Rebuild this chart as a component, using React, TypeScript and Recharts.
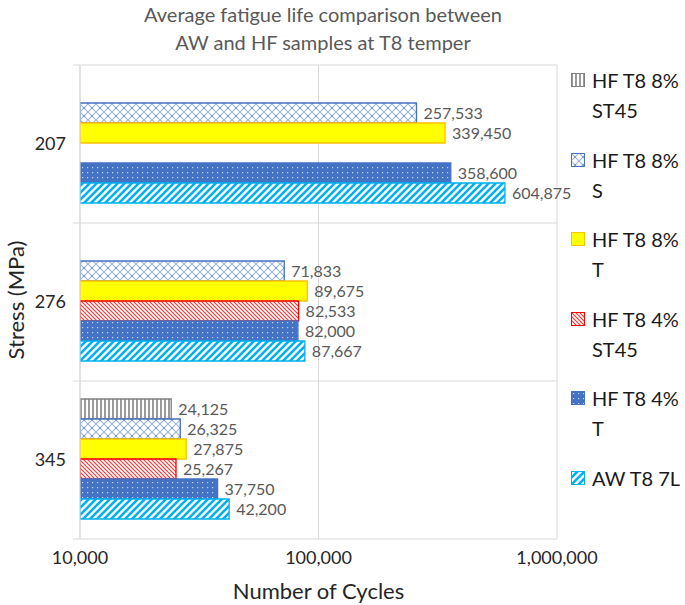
import { BarChart, Bar, XAxis, YAxis, CartesianGrid, LabelList } from 'recharts';

const stresses = ['207', '276', '345'];
const hf8ST45 = [null, null, 24125];
const hf8S = [257533, 71833, 26325];
const hf8T = [339450, 89675, 27875];
const hf4ST45 = [null, 82533, 25267];
const hf4T = [358600, 82000, 37750];
const aw7L = [604875, 87667, 42200];
const xTicks = [10000, 100000, 1000000];

const series = [
  { key: 'hf8ST45', name: ['HF T8 8%', 'ST45'], values: hf8ST45, fill: 'url(#pGray)', stroke: '#808080' },
  { key: 'hf8S', name: ['HF T8 8%', 'S'], values: hf8S, fill: 'url(#pLattice)', stroke: '#4472c4' },
  { key: 'hf8T', name: ['HF T8 8%', 'T'], values: hf8T, fill: '#ffff00', stroke: '#ffc000' },
  { key: 'hf4ST45', name: ['HF T8 4%', 'ST45'], values: hf4ST45, fill: 'url(#pRed)', stroke: '#ff0000' },
  { key: 'hf4T', name: ['HF T8 4%', 'T'], values: hf4T, fill: 'url(#pDots)', stroke: '#4472c4' },
  { key: 'aw7L', name: ['AW T8 7L'], values: aw7L, fill: 'url(#pCyan)', stroke: '#00b0f0' },
];

const chartData = stresses.map((stress, i) => {
  const row: Record<string, string | number | null> = { stress };
  series.forEach(s => {
    row[s.key] = s.values[i];
  });
  return row;
});

const FONT = 'Lato, "Open Sans", sans-serif';
const fmt = (v: any) => (v == null ? '' : Number(v).toLocaleString('en-US'));

function Patterns() {
  return (
    <defs>
      <pattern id="pGray" patternUnits="userSpaceOnUse" width="4" height="4">
        <rect width="4" height="4" fill="#ffffff" />
        <rect x="0" width="2" height="4" fill="#9a9a9a" />
      </pattern>
      <pattern id="pLattice" patternUnits="userSpaceOnUse" width="8" height="8">
        <rect width="8" height="8" fill="#ffffff" />
        <path d="M0 0 L8 8 M8 0 L0 8" stroke="#9db5e0" strokeWidth="1.1" />
        <rect x="3" y="3" width="2" height="2" fill="#7c9cd6" />
      </pattern>
      <pattern id="pRed" patternUnits="userSpaceOnUse" width="4" height="4">
        <rect width="4" height="4" fill="#ffffff" />
        <path d="M0 0 L4 4 M-1 3 L1 5 M3 -1 L5 1" stroke="#ff3030" strokeWidth="1.1" />
      </pattern>
      <pattern id="pDots" patternUnits="userSpaceOnUse" width="5" height="5">
        <rect width="5" height="5" fill="#4472c4" />
        <rect x="2" y="2" width="1.2" height="1.2" fill="#c9d6ef" />
      </pattern>
      <pattern id="pCyan" patternUnits="userSpaceOnUse" width="7" height="7">
        <rect width="7" height="7" fill="#ffffff" />
        <path d="M0 7 L7 0 M-2 2 L2 -2 M5 9 L9 5" stroke="#00b0f0" strokeWidth="2.6" />
      </pattern>
    </defs>
  );
}

function StressTick(props: any) {
  const { x, y, payload, height, visibleTicksCount, index } = props;
  const band = height / visibleTicksCount;
  const axisX = x + 14;
  return (
    <g>
      <line x1={axisX - 7} x2={axisX} y1={y - band / 2} y2={y - band / 2} stroke="#d9d9d9" />
      {index === visibleTicksCount - 1 && (
        <line x1={axisX - 7} x2={axisX} y1={y + band / 2} y2={y + band / 2} stroke="#d9d9d9" />
      )}
      <text x={x} y={y} dy={6} textAnchor="end" fill="#262626" fontSize={18} fontFamily={FONT}>
        {payload.value}
      </text>
    </g>
  );
}

export default function App() {
  return (
    <div style={{ position: 'absolute', left: 0, top: 0, width: 685, height: 605, background: '#fff', fontFamily: FONT }}>
      <div style={{ position: 'absolute', left: 0, width: 646, top: 0, textAlign: 'center', color: '#595959', fontSize: 20, lineHeight: '28px' }}>
        Average fatigue life comparison between
        <br />
        AW and HF samples at T8 temper
      </div>
      <div
        style={{
          position: 'absolute',
          left: 16,
          top: 300,
          transform: 'translate(-50%, -50%) rotate(-90deg)',
          whiteSpace: 'nowrap',
          color: '#262626',
          fontSize: 22,
          lineHeight: '26px',
        }}
      >
        Stress (MPa)
      </div>
      <div style={{ position: 'absolute', left: 80, width: 477, top: 578, textAlign: 'center', color: '#262626', fontSize: 22, lineHeight: '26px' }}>
        Number of Cycles
      </div>

      <div style={{ position: 'absolute', left: 0, top: 0 }}>
        <BarChart
          width={685}
          height={605}
          data={chartData}
          layout="vertical"
          margin={{ top: 65, right: 128, bottom: 36, left: 0 }}
          barCategoryGap={18}
          barGap={0}
        >
          <Patterns />
          <CartesianGrid
            stroke="#d9d9d9"
            horizontalCoordinatesGenerator={({ offset }: any) =>
              stresses.map((_, i) => offset.top + (i * offset.height) / stresses.length).concat(offset.top + offset.height)
            }
          />
          <XAxis
            type="number"
            scale="log"
            domain={[10000, 1000000]}
            ticks={xTicks}
            tickFormatter={fmt}
            axisLine={false}
            tickLine={false}
            height={30}
            tickMargin={6}
            tick={{ fill: '#262626', fontSize: 18, fontFamily: FONT }}
            allowDataOverflow
          />
          <YAxis
            type="category"
            dataKey="stress"
            width={80}
            axisLine={{ stroke: '#d9d9d9' }}
            tickLine={false}
            tickSize={6}
            tickMargin={8}
            tick={<StressTick />}
          />
          {series.map(s => (
            <Bar
              key={s.key}
              dataKey={s.key}
              name={s.name.join(' ')}
              fill={s.fill}
              stroke={s.stroke}
              strokeWidth={1.3}
              isAnimationActive={false}
            >
              <LabelList
                dataKey={s.key}
                position="right"
                offset={7}
                formatter={fmt}
                fill="#595959"
                fontSize={16}
                fontFamily={FONT}
              />
            </Bar>
          ))}
        </BarChart>
      </div>

      <div style={{ position: 'absolute', left: 571, top: 65, width: 114 }}>
        {series.map(s => (
          <div key={s.key} style={{ height: 79.5, display: 'flex', alignItems: 'flex-start' }}>
            <svg width={14} height={14} style={{ marginTop: 8, flex: 'none' }}>
              <rect x={0.5} y={0.5} width={13} height={13} fill={s.fill} stroke={s.stroke} />
            </svg>
            <div style={{ marginLeft: 7, fontSize: 20, lineHeight: '30px', color: '#1a1a1a', whiteSpace: 'nowrap' }}>
              {s.name.map(line => (
                <div key={line}>{line}</div>
              ))}
            </div>
          </div>
        ))}
      </div>
    </div>
  );
}
